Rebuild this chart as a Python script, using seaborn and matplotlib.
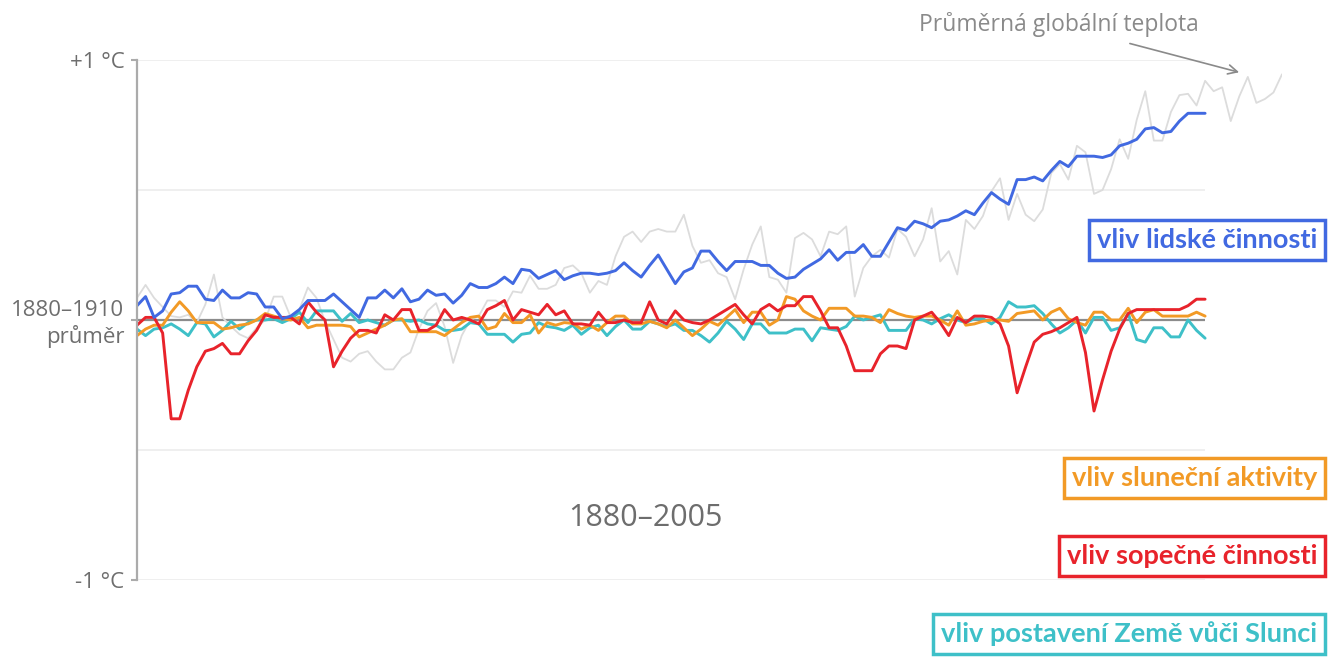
import numpy as np
import pandas as pd
import matplotlib
matplotlib.use('Agg')
import matplotlib.pyplot as plt
import seaborn as sns

sns.set_theme(style='white')
plt.rcParams['font.family'] = ['Open Sans', 'DejaVu Sans']

# forcing series, 1880-2005 (deg C vs. 1880-1910 mean)
years = list(range(1880, 2006))
human = [0.055, 0.09, 0.01, 0.035, 0.1, 0.105, 0.13, 0.13, 0.08, 0.075,
         0.115, 0.085, 0.085, 0.105, 0.1, 0.05, 0.05, 0.005, 0.015, 0.04,
         0.075, 0.075, 0.075, 0.1, 0.07, 0.04, 0.01, 0.085, 0.085, 0.115,
         0.085, 0.12, 0.07, 0.08, 0.115, 0.095, 0.1, 0.065, 0.095, 0.14,
         0.125, 0.125, 0.14, 0.165, 0.14, 0.195, 0.19, 0.16, 0.175, 0.19,
         0.155, 0.17, 0.18, 0.18, 0.175, 0.18, 0.19, 0.22, 0.19, 0.165,
         0.21, 0.25, 0.195, 0.14, 0.185, 0.2, 0.265, 0.265, 0.225, 0.19,
         0.225, 0.225, 0.225, 0.21, 0.21, 0.18, 0.16, 0.165, 0.195, 0.215,
         0.235, 0.27, 0.23, 0.26, 0.26, 0.29, 0.245, 0.245, 0.3, 0.355,
         0.345, 0.38, 0.37, 0.355, 0.38, 0.385, 0.4, 0.42, 0.405, 0.45,
         0.49, 0.465, 0.445, 0.54, 0.54, 0.55, 0.535, 0.575, 0.61, 0.59,
         0.63, 0.63, 0.63, 0.625, 0.635, 0.67, 0.68, 0.695, 0.735, 0.74,
         0.72, 0.725, 0.765, 0.795, 0.795, 0.795]
solar = [-0.06, -0.035, -0.02, -0.02, 0.03, 0.07, 0.035, -0.01, -0.01, -0.01,
         -0.035, -0.03, -0.02, -0.015, 0.0, 0.025, 0.015, 0.005, 0.0, 0.01,
         -0.03, -0.02, -0.02, -0.02, -0.02, -0.025, -0.065, -0.05, -0.035, -0.02,
         0.0, 0.005, -0.045, -0.045, -0.045, -0.045, -0.06, -0.035, -0.01, 0.01,
         0.015, -0.035, -0.025, 0.025, -0.01, -0.01, 0.02, -0.05, -0.01, -0.02,
         -0.01, -0.013, -0.035, -0.02, -0.04, -0.01, 0.015, 0.015, -0.015, -0.015,
         -0.005, -0.015, -0.03, 0.0, -0.03, -0.06, -0.035, -0.005, -0.02, 0.01,
         0.04, -0.01, 0.03, 0.03, -0.02, 0.0, 0.09, 0.08, 0.035, 0.015,
         0.0, 0.045, 0.045, 0.045, 0.015, 0.015, 0.01, -0.01, 0.04, 0.025,
         0.015, 0.01, 0.015, 0.015, 0.0, -0.02, 0.035, -0.02, -0.015, -0.005,
         0.0, 0.0, -0.005, 0.025, 0.03, 0.035, 0.0, 0.03, 0.045, 0.005,
         -0.01, -0.02, 0.03, 0.03, 0.0, 0.0, 0.045, -0.01, 0.03, 0.04,
         0.015, 0.015, 0.015, 0.015, 0.03, 0.015]
volcanic = [-0.02, 0.01, 0.01, -0.05, -0.38, -0.38, -0.27, -0.18, -0.12, -0.11,
            -0.09, -0.13, -0.13, -0.08, -0.04, 0.02, 0.01, 0.01, 0.01, -0.015,
            0.07, 0.03, 0.0, -0.18, -0.12, -0.07, -0.04, -0.04, -0.05, 0.02,
            0.0, 0.04, 0.04, -0.04, -0.04, -0.02, 0.04, 0.0, 0.01, 0.0,
            -0.015, 0.04, 0.055, 0.075, 0.0, 0.04, 0.03, 0.02, 0.06, 0.02,
            0.035, -0.015, -0.015, -0.02, 0.03, -0.01, -0.01, 0.0, -0.01, -0.01,
            0.07, 0.0, -0.015, 0.035, 0.0, -0.01, -0.015, 0.0, 0.02, 0.04,
            0.06, 0.02, -0.015, 0.04, 0.06, 0.035, 0.055, 0.055, 0.09, 0.09,
            0.035, -0.03, -0.03, -0.10, -0.195, -0.195, -0.195, -0.13, -0.10, -0.10,
            -0.11, 0.0, 0.015, 0.03, -0.01, -0.06, 0.01, -0.01, 0.015, 0.015,
            0.01, -0.015, -0.10, -0.28, -0.18, -0.085, -0.055, -0.045, -0.03, -0.01,
            0.01, -0.125, -0.35, -0.23, -0.12, -0.035, 0.025, 0.04, 0.04, 0.04,
            0.04, 0.04, 0.04, 0.055, 0.08, 0.08]
orbital = [-0.035, -0.06, -0.035, -0.03, -0.015, -0.035, -0.06, -0.01, -0.015, -0.065,
           -0.04, -0.005, -0.035, -0.01, 0.0, 0.0, 0.005, -0.01, 0.005, 0.03,
           -0.01, 0.035, 0.035, 0.035, -0.005, 0.025, -0.01, 0.0, -0.01, -0.02,
           0.0, 0.0, -0.005, 0.0, -0.015, -0.02, -0.04, -0.04, -0.035, -0.01,
           -0.015, -0.055, -0.055, -0.055, -0.085, -0.055, -0.05, -0.01, -0.025, -0.03,
           -0.04, -0.02, -0.055, -0.03, -0.02, -0.06, -0.025, 0.0, -0.035, -0.035,
           -0.005, -0.015, -0.025, -0.015, -0.04, -0.04, -0.06, -0.085, -0.05, -0.005,
           -0.035, -0.075, -0.015, -0.015, -0.05, -0.05, -0.05, -0.035, -0.035, -0.08,
           -0.03, -0.035, -0.04, -0.025, 0.015, 0.0, 0.01, 0.02, -0.04, -0.04,
           -0.04, 0.005, 0.0, -0.015, 0.005, 0.02, 0.0, -0.01, 0.005, 0.005,
           -0.015, 0.01, 0.07, 0.05, 0.05, 0.055, 0.025, -0.015, -0.05, -0.03,
           0.0, -0.05, 0.01, 0.01, -0.04, -0.03, 0.025, -0.075, -0.085, -0.03,
           -0.03, -0.065, -0.065, 0.0, -0.04, -0.07]

# observed global mean temperature, 1880-2014
obs_years = list(range(1880, 2015))
observed = [0.085, 0.135, 0.085, 0.05, 0.015, 0.01, 0.02, -0.01, 0.06, 0.175,
            0.01, -0.025, -0.055, -0.07, -0.03, 0.0, 0.09, 0.09, 0.01, 0.04,
            0.125, 0.085, -0.005, -0.075, -0.145, -0.16, -0.13, -0.12, -0.16, -0.19,
            -0.19, -0.145, -0.125, -0.035, 0.035, 0.065, -0.025, -0.165, -0.06, 0.0,
            0.015, 0.075, 0.075, 0.05, 0.11, 0.105, 0.17, 0.12, 0.12, 0.135,
            0.2, 0.21, 0.18, 0.105, 0.15, 0.135, 0.245, 0.32, 0.34, 0.3,
            0.34, 0.35, 0.34, 0.34, 0.405, 0.285, 0.22, 0.23, 0.18, 0.165,
            0.08, 0.195, 0.29, 0.36, 0.165, 0.155, 0.105, 0.315, 0.335, 0.31,
            0.245, 0.34, 0.33, 0.36, 0.09, 0.2, 0.245, 0.27, 0.24, 0.35,
            0.32, 0.245, 0.31, 0.43, 0.225, 0.265, 0.175, 0.385, 0.35, 0.4,
            0.495, 0.545, 0.385, 0.485, 0.405, 0.38, 0.425, 0.565, 0.6, 0.54,
            0.67, 0.645, 0.485, 0.5, 0.58, 0.695, 0.62, 0.77, 0.88, 0.69,
            0.69, 0.8, 0.865, 0.87, 0.825, 0.92, 0.88, 0.895, 0.765, 0.86,
            0.935, 0.835, 0.85, 0.875, 0.945]

labels = ['vliv lidské činnosti', 'vliv sluneční aktivity',
          'vliv sopečné činnosti', 'vliv postavení Země vůči Slunci']
colors = ['#4169e1', '#f29a26', '#e8232b', '#3ec0c8']

forcing = pd.DataFrame({'rok': years, 'lidska': human, 'slunecni': solar,
                        'sopecna': volcanic, 'orbitalni': orbital})
obs = pd.DataFrame({'rok': obs_years, 'teplota': observed})

fig = plt.figure(figsize=(13.29, 6.57), dpi=100)
ax = fig.add_axes([137 / 1329, 1 - 580 / 657, 1145 / 1329, 520 / 657])

# grid + baseline, only over the 1880-2005 window
ax.hlines([-1, -0.5, 0.5, 1], 1880, 2005, color='#ececec', lw=1.2, zorder=0)
ax.hlines(0, 1880, 2005, color='#8c8c8c', lw=1.6, zorder=1)

sns.lineplot(data=obs, x='rok', y='teplota', ax=ax, color='#dcdcdc', lw=1.3)
sns.lineplot(data=forcing, x='rok', y='orbitalni', ax=ax, color=colors[3], lw=2.1)
sns.lineplot(data=forcing, x='rok', y='slunecni', ax=ax, color=colors[1], lw=2.1)
sns.lineplot(data=forcing, x='rok', y='sopecna', ax=ax, color=colors[2], lw=2.1)
sns.lineplot(data=forcing, x='rok', y='lidska', ax=ax, color=colors[0], lw=2.1)

ax.set_xlim(1880, 2014)
ax.set_ylim(-1, 1)
ax.set_xlabel('')
ax.set_ylabel('')
ax.set_xticks([])
for s in ['top', 'right', 'bottom']:
    ax.spines[s].set_visible(False)
ax.spines['left'].set_color('#ababab')
ax.spines['left'].set_linewidth(1.6)
ax.set_yticks([-1, 0, 1])
ax.set_yticklabels(['-1 °C', '1880–1910\nprůměr', '+1 °C'], fontsize=16,
                   color='#6e6e6e')
for t in ax.get_yticklabels():
    t.set_multialignment('right')
ax.tick_params(axis='y', length=4, width=1.5, color='#ababab', pad=5, left=True)
ax.set_facecolor('white')

ax.text(1939.5, -0.76, '1880–2005', fontsize=22, color='#6d6d6d',
        ha='center', va='center')

ax.annotate('Průměrná globální teplota', xy=(2009.3, 0.95), xytext=(2004.3, 1.135),
            fontsize=16.5, color='#8a8a8a', ha='right', va='center',
            annotation_clip=False,
            arrowprops=dict(arrowstyle='->', color='#8a8a8a', lw=1.2,
                            shrinkA=8, shrinkB=2))

# legend boxes on the right
box_y = [1 - 240 / 657, 1 - 478 / 657, 1 - 556 / 657, 1 - 634 / 657]
for lab, col, yy in zip(labels, colors, box_y):
    fig.text(1317 / 1329, yy, lab, fontsize=19.5, fontweight='bold', color=col,
             family=['Lato', 'DejaVu Sans'], ha='right', va='center',
             bbox=dict(boxstyle='square,pad=0.28', fc='white', ec=col, lw=2.5))

fig.savefig('out.png', dpi=100, facecolor='white')
